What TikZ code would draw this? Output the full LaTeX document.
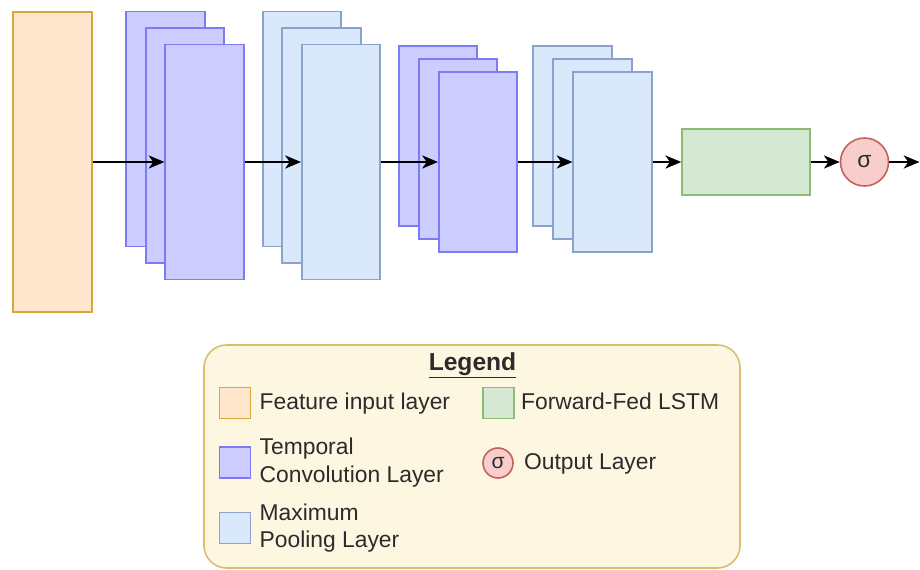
\documentclass[tikz,border=0pt]{standalone}
\usepackage{fontspec}
\setmainfont{Liberation Sans}
\usepackage{xcolor}
\usetikzlibrary{arrows.meta,positioning}
\definecolor{cnInk}{HTML}{2B2B2B}
\definecolor{cnInFill}{HTML}{FFE6CC}
\definecolor{cnInDraw}{HTML}{D7A93A}
\definecolor{cnConvFill}{HTML}{CCCCFF}
\definecolor{cnConvDraw}{HTML}{7B7BF5}
\definecolor{cnPoolFill}{HTML}{DAE8FC}
\definecolor{cnPoolDraw}{HTML}{8AA3CA}
\definecolor{cnLstmFill}{HTML}{D5E8D4}
\definecolor{cnLstmDraw}{HTML}{8DBA74}
\definecolor{cnOutFill}{HTML}{F8CECC}
\definecolor{cnOutDraw}{HTML}{C2625E}
\definecolor{cnLegFill}{HTML}{FDF6E1}
\definecolor{cnLegDraw}{HTML}{D9BE6E}
\tikzset{
  layer/.style={rectangle,inner sep=0pt,line width=0.9pt},
  inbox/.style={layer,draw=cnInDraw,fill=cnInFill,
    minimum width=1.57cm,minimum height=6.0cm},
  convbox/.style={layer,draw=cnConvDraw,fill=cnConvFill,minimum width=1.57cm},
  poolbox/.style={layer,draw=cnPoolDraw,fill=cnPoolFill,minimum width=1.57cm},
  lstmbox/.style={layer,draw=cnLstmDraw,fill=cnLstmFill,
    minimum width=2.56cm,minimum height=1.32cm},
  outnode/.style={circle,inner sep=0pt,line width=0.9pt,
    draw=cnOutDraw,fill=cnOutFill,text=cnInk},
  legbox/.style={rectangle,rounded corners=0.45cm,line width=0.9pt,
    draw=cnLegDraw,fill=cnLegFill,minimum width=10.72cm,minimum height=4.46cm},
  swatch/.style={layer,minimum size=0.62cm},
  lbl/.style={inner sep=0pt,align=left,
    font=\fontsize{13}{15.5}\selectfont,text=cnInk},
  lblone/.style={lbl,text height=0.72em,text depth=0pt},
  arr/.style={-{Stealth[length=9pt,width=7.5pt,inset=2.6pt]},line width=1.1pt,color=black},
}
\begin{document}
\begin{tikzpicture}
  \useasboundingbox (0,0) rectangle (18.4,-11.38);

  % network
  \node[inbox] (in) at (1.05,-3.24) {};

  \foreach \k/\s in {a/2,b/1,c/0}{
    \node[convbox,minimum height=4.7cm] (conv1\k) at (4.09-0.39*\s,-3.24+0.33*\s) {};
    \node[poolbox,minimum height=4.7cm] (pool1\k) at (6.82-0.39*\s,-3.24+0.33*\s) {};
    \node[convbox,minimum height=3.6cm] (conv2\k) at (9.56-0.40*\s,-3.24+0.26*\s) {};
    \node[poolbox,minimum height=3.6cm] (pool2\k) at (12.25-0.40*\s,-3.24+0.26*\s) {};
  }

  \node[lstmbox] (lstm) at (14.92,-3.24) {};
  \node[outnode,minimum size=0.96cm,font=\fontsize{13}{15}\selectfont] (sig) at (17.29,-3.24) {σ};
  \coordinate (out) at (18.39,-3.24);

  \foreach \from/\to in {in/conv1c,conv1c/pool1c,pool1c/conv2c,conv2c/pool2c,pool2c/lstm,lstm/sig,sig/out}
    \draw[arr] (\from) -- (\to);

  % legend
  \node[legbox] (legend) at (9.44,-9.13) {};
  \node[anchor=base,font=\fontsize{14}{16}\selectfont\bfseries,text=cnInk] (legtitle)
    at (9.45,-7.40) {\underline{Legend}};

  \node[swatch,draw=cnInDraw,fill=cnInFill] (swin) at (4.70,-8.06) {};
  \node[swatch,draw=cnConvDraw,fill=cnConvFill,below=0.54cm of swin] (swconv) {};
  \node[swatch,draw=cnPoolDraw,fill=cnPoolFill,below=0.66cm of swconv] (swpool) {};
  \node[swatch,draw=cnLstmDraw,fill=cnLstmFill] (swlstm) at (9.97,-8.06) {};
  \node[outnode,minimum size=0.6cm,font=\fontsize{12}{14}\selectfont] (swout) at (9.96,-9.26) {σ};

  \node[lblone,right=0.16cm of swin] (lbin) {Feature input layer};
  \node[lbl,right=0.16cm of swconv] (lbconv) {Temporal\\Convolution Layer};
  \node[lbl,right=0.16cm of swpool] (lbpool) {Maximum\\Pooling Layer};
  \node[lblone,right=0.12cm of swlstm] (lblstm) {Forward-Fed LSTM};
  \node[lblone,right=0.2cm of swout] (lbout) {Output Layer};

\end{tikzpicture}
\end{document}
